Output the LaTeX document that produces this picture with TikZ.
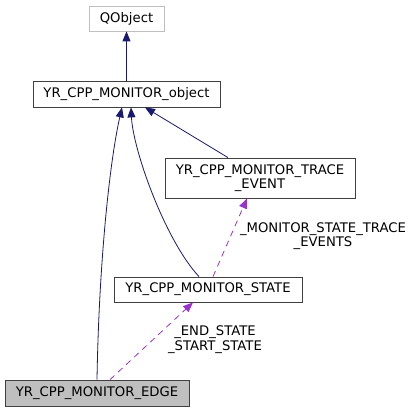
\documentclass[tikz,border=0pt]{standalone}
\usepackage{fontspec}
\setmainfont{DejaVu Sans}
\usetikzlibrary{arrows.meta,positioning}
\definecolor{EdgeBlue}{RGB}{25,25,112}
\definecolor{UsePurple}{RGB}{154,50,205}
\definecolor{BoxGray}{RGB}{64,64,64}
\definecolor{FillGray}{RGB}{191,191,191}

\begin{document}
\begin{tikzpicture}[x=1pt,y=-1pt,
  cls/.style={rectangle,draw=BoxGray,line width=0.8pt,inner sep=0pt,minimum height=26pt,align=center,font=\fontsize{13.2}{14.5}\selectfont},
  inh/.style={draw=EdgeBlue,line width=0.8pt,-{Triangle[length=10pt,width=8pt]}},
  usage/.style={draw=UsePurple,line width=0.8pt,dash pattern=on 6pt off 5pt,-{Triangle[length=10pt,width=8pt]}},
  lbl/.style={align=center,inner sep=0pt,font=\fontsize{13.2}{14.5}\selectfont}
]
  \useasboundingbox (0,0) rectangle (415,412);
  \node[cls,draw=FillGray,minimum width=75pt,minimum height=25pt] (qobject) at (126.5,18.5) {QObject};
  \node[cls,minimum width=187pt] (object) at (126.5,94) {YR\_CPP\_MONITOR\_object};
  \node[cls,minimum width=190pt,minimum height=40pt] (trace) at (260,178) {YR\_CPP\_MONITOR\_TRACE\\\_EVENT};
  \node[cls,minimum width=188pt,minimum height=25pt] (state) at (208,289.5) {YR\_CPP\_MONITOR\_STATE};
  \node[cls,fill=FillGray,minimum width=184pt] (edge) at (97,393) {YR\_CPP\_MONITOR\_EDGE};
  % inheritance
  \draw[inh] (object.north) -- (qobject.south);
  \draw[inh] (edge.north) .. controls (99,260) and (110,160) .. ([xshift=-4.5pt]object.south);
  \draw[inh] ([xshift=-9pt]state.north) .. controls (165,240) and (133,150) .. ([xshift=4.5pt]object.south);
  \draw[inh] ([xshift=-32pt]trace.north) -- ([xshift=18.5pt]object.south);
  % usage
  \draw[usage] ([xshift=5pt]state.north) -- ([xshift=-13pt]trace.south);
  \draw[usage] ([xshift=13pt]edge.north) -- ([xshift=-15pt]state.south);
  \node[lbl] (tracelbl) at (323,236) {\_MONITOR\_STATE\_TRACE\\\_EVENTS};
  \node[lbl] (statelbl) at (215,339.5) {\_END\_STATE\\\_START\_STATE};
\end{tikzpicture}
\end{document}
